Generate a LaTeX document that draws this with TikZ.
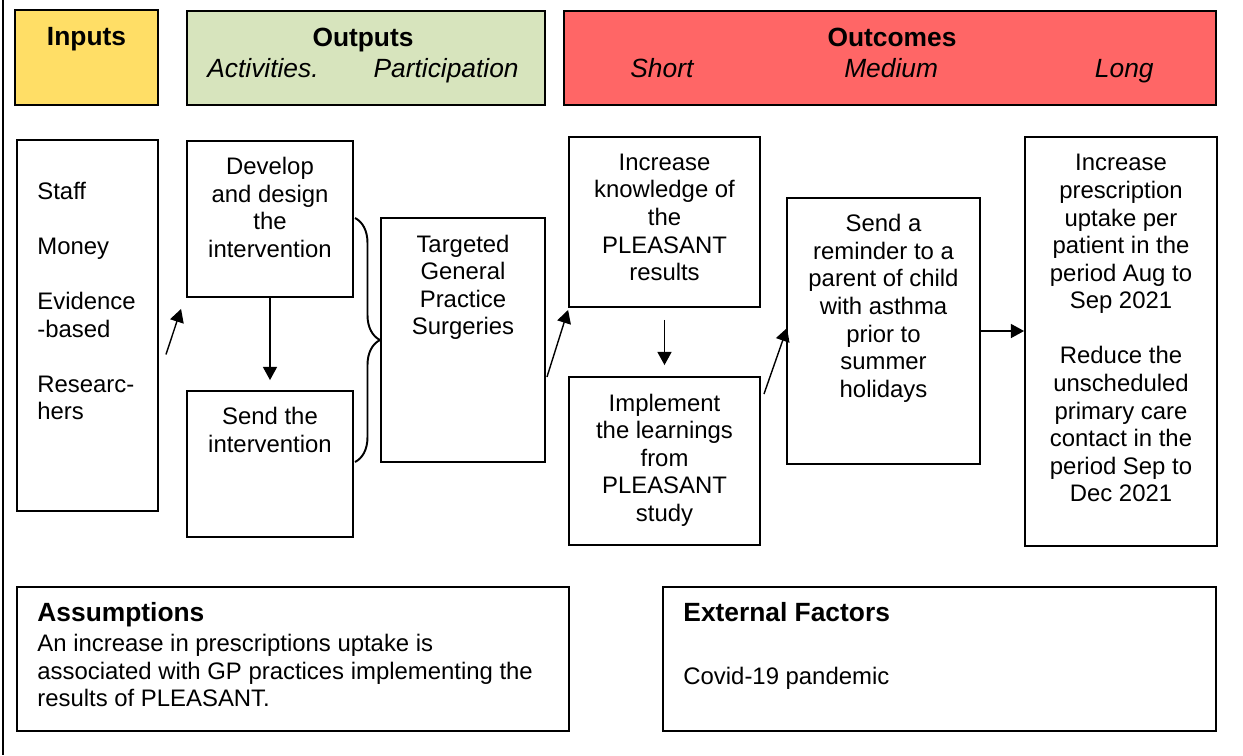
\documentclass[tikz,border=0pt]{standalone}
\usepackage{fontspec}
\setmainfont{Liberation Sans}
\usetikzlibrary{arrows.meta,decorations.pathreplacing,positioning}
\definecolor{inyellow}{HTML}{FFDE66}
\definecolor{outgreen}{HTML}{D7E4BD}
\definecolor{ocmred}{HTML}{FF6666}

\begin{document}
\begin{tikzpicture}[
  x=0.02cm, y=-0.02cm,
  >={Triangle[length=7.5pt,width=8pt]},
  box/.style 2 args={draw,line width=1.1pt,inner sep=0pt,
    minimum width=#1,minimum height=#2},
  txt/.style={align=center,inner sep=0pt,
    font=\fontsize{13.6}{15.7}\selectfont},
  headtxt/.style={align=center,inner sep=0pt,
    font=\fontsize{15}{17}\selectfont},
  flow/.style={->,line width=0.8pt}
]
  \useasboundingbox (0,0) rectangle (1243,755);
  \draw[line width=1pt] (3,0) -- (3,755);

  % column heads
  \node[box={2.86cm}{1.9cm},fill=inyellow] (inhead) at (86.5,57.5) {};
  \node[box={7.16cm}{1.88cm},fill=outgreen] (outhead) at (366,58) {};
  \node[box={13.04cm}{1.88cm},fill=ocmred] (ocmhead) at (890,58) {};
  \node[headtxt,below=0.35cm of inhead.north] (intitle) {\bfseries Inputs};
  \node[headtxt,below=0.36cm of outhead.north,xshift=-0.06cm] (outtitle)
    {{\bfseries Outputs}\\[0.5pt]\textit{Activities.}\hspace{1.1cm}\textit{Participation}};
  \node[headtxt,below=0.36cm of ocmhead.north,xshift=0.04cm] (ocmtitle)
    {{\bfseries Outcomes}\\[0.5pt]\textit{Short}\hspace{3cm}\textit{Medium}\hspace{3.14cm}\textit{Long}};

  % boxes
  \node[box={2.82cm}{7.42cm}] (inp) at (87.5,325.5) {};
  \node[box={3.32cm}{3.12cm}] (dev) at (270,219) {};
  \node[box={3.32cm}{2.92cm}] (snd) at (270,464) {};
  \node[box={3.28cm}{4.88cm}] (tgt) at (463,340) {};
  \node[box={3.82cm}{3.4cm}] (inc) at (664.5,222) {};
  \node[box={3.82cm}{3.36cm}] (imp) at (664.5,461) {};
  \node[box={3.86cm}{5.32cm}] (rem) at (883.5,331) {};
  \node[box={3.84cm}{8.18cm}] (lng) at (1121,341.5) {};
  \node[box={11.04cm}{2.88cm}] (asm) at (293,659) {};
  \node[box={11.06cm}{2.88cm}] (ext) at (939.5,659) {};

  % box texts
  \node[txt,align=left,below right=0.86cm and 0.42cm of inp.north west] (inptxt)
    {Staff\\[15.6pt]Money\\[15.6pt]Evidence\\-based\\[15.6pt]Researc-\\hers};
  \node[txt,below=0.34cm of dev.north] (devtxt)
    {Develop\\and design\\the\\intervention};
  \node[txt,below=0.34cm of snd.north] (sndtxt) {Send the\\intervention};
  \node[txt,below=0.35cm of tgt.north] (tgttxt)
    {Targeted\\General\\Practice\\Surgeries};
  \node[txt,below=0.35cm of inc.north] (inctxt)
    {Increase\\knowledge of\\the\\PLEASANT\\results};
  \node[txt,below=0.35cm of imp.north] (imptxt)
    {Implement\\the learnings\\from\\PLEASANT\\study};
  \node[txt,below=0.34cm of rem.north] (remtxt)
    {Send a\\reminder to a\\parent of child\\with asthma\\prior to\\summer\\holidays};
  \node[txt,below=0.36cm of lng.north] (lngtxt)
    {Increase\\prescription\\uptake per\\patient in the\\period Aug to\\Sep 2021\\[15.7pt]
     Reduce the\\unscheduled\\primary care\\contact in the\\period Sep to\\Dec 2021};
  \node[txt,align=left,below right=0.32cm and 0.42cm of asm.north west] (asmtxt)
    {{\fontsize{15}{17}\selectfont\bfseries Assumptions}\\[1.5pt]
     An increase in prescriptions uptake is\\
     associated with GP practices implementing the\\
     results of PLEASANT.};
  \node[txt,align=left,below right=0.32cm and 0.42cm of ext.north west] (exttxt)
    {{\fontsize{15}{17}\selectfont\bfseries External Factors}\\[20pt]
     Covid-19 pandemic};

  % brace joining the two activities
  \draw[line width=1.1pt,decorate,decoration={brace,amplitude=0.5cm}]
    (355,218) -- (355,462);

  % connectors
  \draw[flow] ([shift={(7,29)}]inp.east) -- ([shift={(-5,11)}]dev.south west);
  \draw[flow] (dev.south) -- ([yshift=0.2cm]snd.north);
  \draw[flow] ([shift={(1,37)}]tgt.east) -- ([shift={(0,2)}]inc.south west);
  \draw[flow] ([yshift=-0.24cm]inc.south) -- ([yshift=0.22cm]imp.north);
  \draw[flow] ([shift={(3,18)}]imp.north east) -- ([shift={(1,-3)}]rem.west);
  \draw[flow] (rem.east) -- (rem.east -| lng.west);
\end{tikzpicture}
\end{document}
